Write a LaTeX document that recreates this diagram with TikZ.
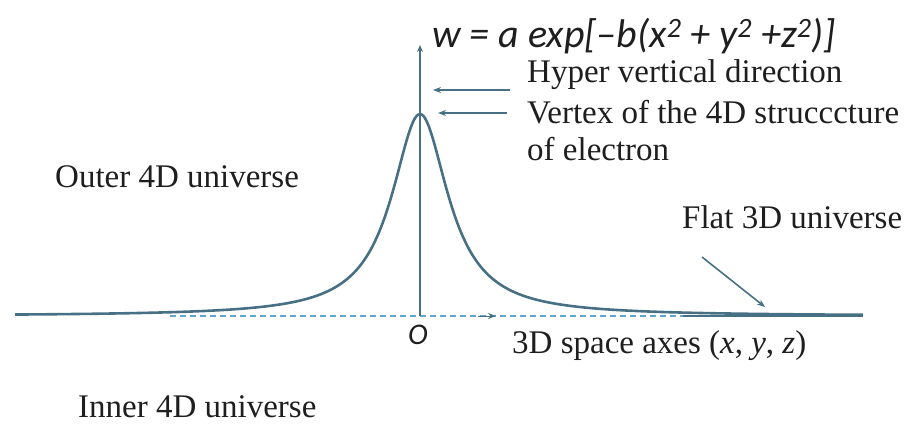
\documentclass[tikz,border=0pt]{standalone}
\usepackage{fontspec}
\setmainfont{Liberation Serif}
\newfontfamily\calib{Carlito}
\usetikzlibrary{arrows.meta}
\definecolor{curveblue}{RGB}{72,112,132}
\definecolor{dashblue}{RGB}{100,165,205}
\definecolor{ink}{RGB}{30,30,30}

\begin{document}
\begin{tikzpicture}[x=1pt, y=-1pt, >={Stealth[length=8pt,width=6pt]},
                    font=\fontsize{33}{38}\selectfont]
        \tikzset{lbl/.style={anchor=base west, inner sep=0pt, text=ink},
                 crv/.style={draw=curveblue, line width=2.6pt},
                 ptr/.style={->, draw=curveblue, line width=1.6pt}}
        \useasboundingbox (0,0) rectangle (910,424);
        %% Ejes
        \coordinate (orig)  at (420,316);
        \coordinate (wtop)  at (420,45);
        \coordinate (dashL) at (170,316);
        \coordinate (dashR) at (683,316);
        \coordinate (dashB) at (478,316);
        \coordinate (dashA) at (496,316);
        \draw[dashblue, line width=2pt, dash pattern=on 6pt off 4pt] (dashL) -- (dashR);
        \draw[->, curveblue, line width=1pt] (dashB) -- (dashA);
        \draw[crv, line width=2pt, -{Stealth[length=7pt,width=6pt]}] (orig) -- (wtop);
        %% Curva de Lorentz
        \draw[crv, domain=-405:443, samples=300, smooth]
             plot ({420+\x},{316-202/(1+(\x/34.5)^2)});
        \draw[crv] (dashR) -- (863,316);
        %% Textos
        \node[lbl, font=\calib\itshape\fontsize{40}{44}\selectfont] (wlab) at (432,47)
             {w = a exp[–b(x\textsuperscript{2} + y\textsuperscript{2} +z\textsuperscript{2})]};
        \node[lbl] (hyper)  at (527,82)  {Hyper vertical direction};
        \node[lbl] (vertex) at (527,123) {Vertex of the 4D strucccture};
        \node[lbl] (elec)   at (527,160) {of electron};
        \node[lbl] (outer)  at (55,187)  {Outer 4D universe};
        \node[lbl] (inner)  at (78,417)  {Inner 4D universe};
        \node[lbl] (flat)   at (682,228) {Flat 3D universe};
        \node[lbl] (axes)   at (512,353) {3D space axes (\textit{x}, \textit{y}, \textit{z})};
        \node[font=\calib\itshape\fontsize{30}{34}\selectfont, text=ink, inner sep=0pt]
             (olab) at (418,335) {O};
        %% Flechas
        \coordinate (hypT)  at (510,90);
        \coordinate (hypH)  at (433,90);
        \coordinate (vtxT)  at (507,113);
        \coordinate (vtxH)  at (438,113);
        \coordinate (flatT) at (702,257);
        \coordinate (flatH) at (765,307);
        \draw[ptr] (hypT)  -- (hypH);
        \draw[ptr] (vtxT)  -- (vtxH);
        \draw[ptr] (flatT) -- (flatH);
\end{tikzpicture}
\end{document}
